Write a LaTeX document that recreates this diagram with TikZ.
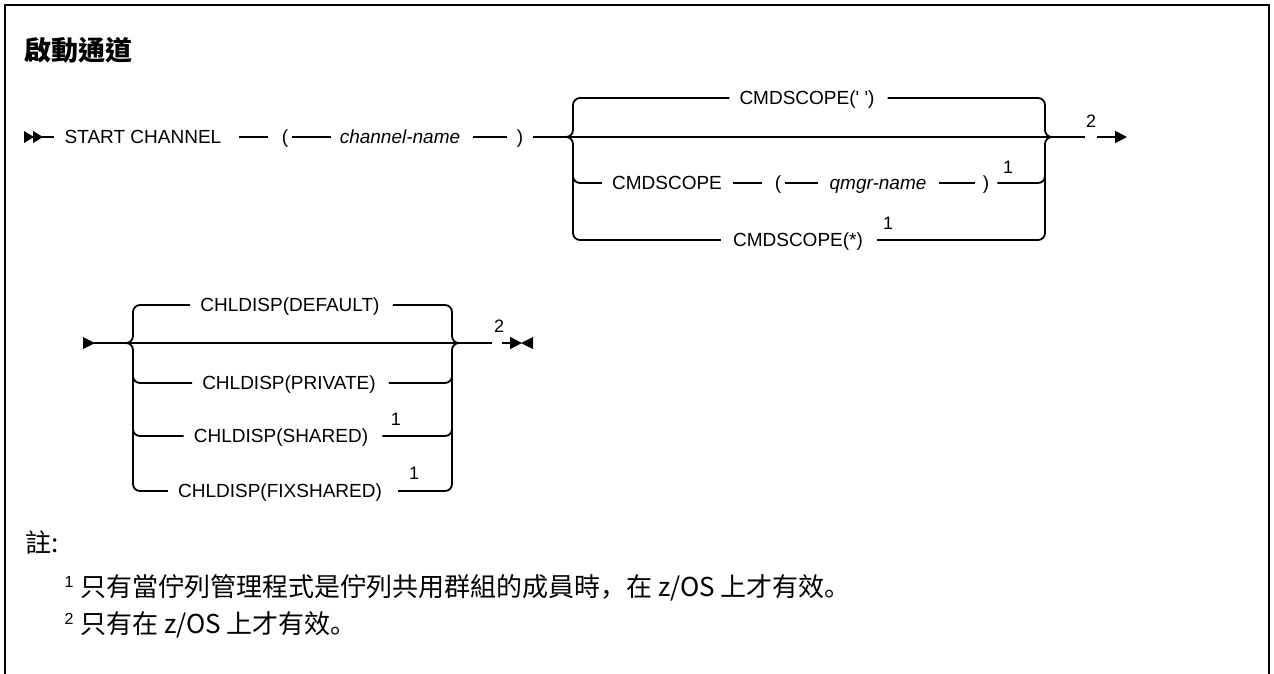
\documentclass[tikz,border=0pt]{standalone}
\usepackage{fontspec}
\setmainfont{Liberation Sans}
\newfontfamily\cjk{Noto Sans CJK TC}
\newfontfamily\cjksc{Noto Sans CJK SC}
\usetikzlibrary{arrows.meta}
\newcommand\dgfont{\fontsize{19}{23}\selectfont}
\tikzset{
  ln/.style={line width=1.8pt},
  br/.style={ln, rounded corners=7pt},
  kw/.style={font=\dgfont, inner sep=0pt, text height=13.5pt, text depth=0pt, anchor=center},
  var/.style={kw, font=\dgfont\itshape},
  fnm/.style={font=\fontsize{18}{20}\selectfont, inner sep=0pt, anchor=center},
  cj/.style={font=\cjk\fontsize{26}{30}\selectfont, inner sep=0pt, anchor=west},
  tip/.style={-{Triangle[length=12pt,width=12pt]}},
}
\begin{document}
\begin{tikzpicture}[x=1pt,y=-1pt]
\useasboundingbox (0,0) rectangle (1274,673);
\fill[white] (0,0) rectangle (1274,673);
% frame
\draw[line width=2pt] (5,690) -- (5,5) -- (1269,5) -- (1269,690);
% title
\node[cj, font=\cjk\bfseries\fontsize{27}{31}\selectfont] (title) at (24,50) {啟動通道};

% ---------- row 1 ----------
\fill (24,131) -- (34,137) -- (24,143) -- cycle;
\fill (33,131) -- (43,137) -- (33,143) -- cycle;
\coordinate (s0) at (42,137);
\node[kw] (start) at (143,137) {START CHANNEL};
\node[kw] (lp1) at (285,137) {(};
\node[var] (chn) at (400,137) {channel-name};
\node[kw] (rp1) at (520,137) {)};
\coordinate (j1) at (1085,137);
\draw[ln] (s0) -- ([xshift=-10pt]start.west);
\draw[ln] ([xshift=17pt]start.east) -- ([xshift=-14pt]lp1.west);
\draw[ln] ([xshift=4pt]lp1.east) -- ([xshift=-9pt]chn.west);
\draw[ln] ([xshift=13pt]chn.east) -- ([xshift=-10pt]rp1.west);
\draw[ln] ([xshift=10pt]rp1.east) -- (j1);

\node[kw] (c1) at (807,98) {CMDSCOPE(\textquotesingle\ \textquotesingle)};
\node[kw] (c2) at (667,183) {CMDSCOPE};
\node[kw] (lp2) at (778,183) {(};
\node[var] (qm) at (878,183) {qmgr-name};
\node[kw] (rp2) at (986,183) {)};
\node[fnm] (f1a) at (1008,167) {1};
\node[kw] (c3) at (798,240) {CMDSCOPE(*)};
\node[fnm] (f1b) at (888,223) {1};
\draw[ln] ([xshift=11pt]c2.east) -- ([xshift=-13pt]lp2.west);
\draw[ln] ([xshift=4pt]lp2.east) -- ([xshift=-11pt]qm.west);
\draw[ln] ([xshift=12pt]qm.east) -- ([xshift=-8pt]rp2.west);

% left brace
\draw[br] ([xshift=-10pt]c1.west) -- (573,98) -- (573,137) -- (563,137);
\draw[br] (563,137) -- (573,137) -- (573,240) -- ([xshift=-12pt]c3.west);
\draw[br] (573,160) -- (573,183) -- ([xshift=-10pt]c2.west);
% right brace
\draw[br] ([xshift=13pt]c1.east) -- (1045,98) -- (1045,137) -- (1055,137);
\draw[br] (1055,137) -- (1045,137) -- (1045,240) -- ([xshift=14pt]c3.east);
\draw[br] (1045,160) -- (1045,183) -- ([xshift=8pt]rp2.east);

\node[fnm] (f2a) at (1091,121) {2};
\coordinate (a1) at (1097,137);
\coordinate (e1) at (1127,137);
\draw[ln, tip] (a1) -- (e1);

% ---------- row 2 ----------
\fill (83,337) -- (95,343) -- (83,349) -- cycle;
\coordinate (s2) at (94,343);
\coordinate (j2) at (492,343);
\draw[ln] (s2) -- (j2);

\node[kw] (d1) at (290,305) {CHLDISP(DEFAULT)};
\node[kw] (d2) at (289,383) {CHLDISP(PRIVATE)};
\node[kw] (d3) at (281,436) {CHLDISP(SHARED)};
\node[fnm] (f1c) at (396,419) {1};
\node[kw] (d4) at (280,491) {CHLDISP(FIXSHARED)};
\node[fnm] (f1d) at (414,473) {1};

\draw[br] ([xshift=-10pt]d1.west) -- (133,305) -- (133,343) -- (123,343);
\draw[br] (123,343) -- (133,343) -- (133,491) -- ([xshift=-10pt]d4.west);
\draw[br] (133,360) -- (133,383) -- ([xshift=-10pt]d2.west);
\draw[br] (133,410) -- (133,436) -- ([xshift=-10pt]d3.west);

\draw[br] ([xshift=13pt]d1.east) -- (452,305) -- (452,343) -- (462,343);
\draw[br] (462,343) -- (452,343) -- (452,491) -- ([xshift=16pt]d4.east);
\draw[br] (452,360) -- (452,383) -- ([xshift=13pt]d2.east);
\draw[br] (452,410) -- (452,436) -- ([xshift=14pt]d3.east);

\node[fnm] (f2b) at (499,326) {2};
\coordinate (a2) at (502,343);
\coordinate (e2) at (522,343);
\draw[ln, tip] (a2) -- (e2);
\fill (533,337) -- (521,343) -- (533,349) -- cycle;

% ---------- notes ----------
\node[cj] (note) at (25,542) {註:};
\node[fnm, font=\fontsize{16}{18}\selectfont] (n1) at (69,582) {1};
\node[cj] (fn1) at (80,588) {只有當佇列管理程式是佇列共用群組的成員時{\cjksc ，}在 z/OS 上才有效{\cjksc 。}};
\node[fnm, font=\fontsize{16}{18}\selectfont] (n2) at (69,619) {2};
\node[cj] (fn2) at (80,625) {只有在 z/OS 上才有效{\cjksc 。}};
\end{tikzpicture}
\end{document}
